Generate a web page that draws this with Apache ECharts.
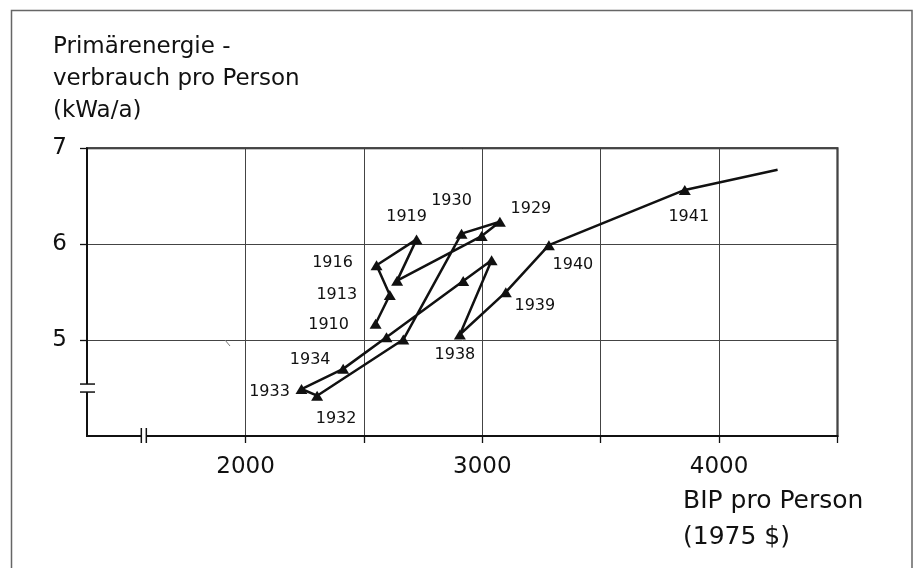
<!DOCTYPE html>
<html><head><meta charset="utf-8">
<script src="https://cdn.jsdelivr.net/npm/echarts@6/dist/echarts.min.js"></script>
<style>html,body{margin:0;padding:0;background:#fff}#c{width:914px;height:568px}</style>
</head><body><div id="c"></div>
<script>
// ---- data ----
const years = ['1910','1913','1916','1919','1922','1925','1929','1930','1931','1932','1933','1934','1935','1936','1937','1938','1939','1940','1941','1942'];
const gdp = [2549,2609,2553,2722,2640,2997,3074,2912,2666,2302,2236,2412,2595,2919,3039,2905,3099,3281,3855,4247];
const energy = [5.17,5.47,5.78,6.05,5.62,6.085,6.234,6.11,5.006,4.42,4.49,4.70,5.03,5.616,5.833,5.058,5.50,5.99,6.566,6.776];
const labeledYears = ['1910','1913','1916','1919','1929','1930','1932','1933','1934','1938','1939','1940','1941'];
const xTicks = [2000,2500,3000,3500,4000,4500];
const xTickLabels = [2000,3000,4000];
const yTicks = [5,6,7];
const yTitle = 'Primärenergie -\nverbrauch pro Person\n(kWa/a)';
const xTitle = 'BIP pro Person\n(1975 $)';

// ---- layout (label placement relative to its point) ----
const labelOffset = {'1910':[-47,1],'1913':[-53,0],'1916':[-44,-2],'1919':[-10,-23],'1929':[31,-13],'1930':[-10,-33],
  '1932':[19,23],'1933':[-32,3],'1934':[-33,-9],'1938':[-5,20],'1939':[29,14],'1940':[24,20],'1941':[4,27]};
const FF = 'DejaVu Sans';
const INK = '#111';

const chart = echarts.init(document.getElementById('c'), null, {renderer:'canvas'});
const seriesData = years.map((y,i)=>({
  value:[gdp[i], energy[i]],
  symbol: i === years.length-1 ? 'none' : 'triangle',
  label: labeledYears.includes(y)
    ? {show:true, formatter:y, position:'inside', align:'center', verticalAlign:'middle', offset:labelOffset[y]}
    : {show:false}
}));

chart.setOption({
  animation:false,
  backgroundColor:'#fff',
  title:[
    {text:yTitle, left:53, top:31, padding:0, textStyle:{fontFamily:FF, fontSize:23, lineHeight:32, fontWeight:'normal', color:INK}},
    {text:xTitle, left:683, top:483, padding:0, textStyle:{fontFamily:FF, fontSize:25, lineHeight:36, fontWeight:'normal', color:INK}}
  ],
  grid:{left:87, top:148.3, right:76.5, bottom:132, show:true, borderColor:INK, borderWidth:2, backgroundColor:'transparent'},
  xAxis:{type:'value', min:1330, max:4500,
    axisLine:{show:true, lineStyle:{color:INK, width:2}},
    axisTick:{show:true, customValues:xTicks, length:7, lineStyle:{color:INK, width:1.3}},
    axisLabel:{customValues:xTickLabels, margin:20, fontFamily:FF, fontSize:23, color:INK, formatter:v=>String(v)},
    splitLine:{show:true, lineStyle:{color:'#444', width:1}}
  },
  yAxis:{type:'value', min:4, max:7,
    axisLine:{show:true, lineStyle:{color:INK, width:2}},
    axisTick:{show:true, customValues:yTicks, length:7, lineStyle:{color:INK, width:1.3}},
    axisLabel:{customValues:yTicks, margin:20, fontFamily:FF, fontSize:23, color:INK, formatter:v=>String(v)},
    splitLine:{show:true, lineStyle:{color:'#444', width:1}}
  },
  series:[{
    type:'line', data:seriesData, symbolSize:[12,10], showSymbol:true,
    itemStyle:{color:INK}, lineStyle:{color:INK, width:2.5},
    label:{fontFamily:FF, fontSize:16, color:INK},
    z:5
  }]
});

// axis breaks and frame, positioned through the axes
const o = chart.convertToPixel({gridIndex:0}, [1330, 4]);
const b = chart.convertToPixel({gridIndex:0}, [1570, 4.5]);
chart.setOption({
  graphic:[
    {type:'rect', z:100, shape:{x:11.5, y:10.5, width:900.5, height:600}, style:{fill:'none', stroke:'#666', lineWidth:1.5}},
    {type:'rect', z:100, shape:{x:o[0]-4, y:b[1]-4, width:8, height:8}, style:{fill:'#fff'}},
    {type:'line', z:101, shape:{x1:o[0]-7, y1:b[1]-4, x2:o[0]+8, y2:b[1]-4}, style:{stroke:INK, lineWidth:1.5}},
    {type:'line', z:101, shape:{x1:o[0]-7, y1:b[1]+4, x2:o[0]+8, y2:b[1]+4}, style:{stroke:INK, lineWidth:1.5}},
    {type:'rect', z:100, shape:{x:b[0]-2.5, y:o[1]-4, width:5, height:8}, style:{fill:'#fff'}},
    {type:'line', z:101, shape:{x1:b[0]-2.5, y1:o[1]-8, x2:b[0]-2.5, y2:o[1]+7}, style:{stroke:INK, lineWidth:1.5}},
    {type:'line', z:101, shape:{x1:b[0]+2.5, y1:o[1]-8, x2:b[0]+2.5, y2:o[1]+7}, style:{stroke:INK, lineWidth:1.5}},
    {type:'line', z:101, shape:{x1:225, y1:340, x2:230, y2:346}, style:{stroke:'#777', lineWidth:1}}
  ]
});
</script></body></html>
